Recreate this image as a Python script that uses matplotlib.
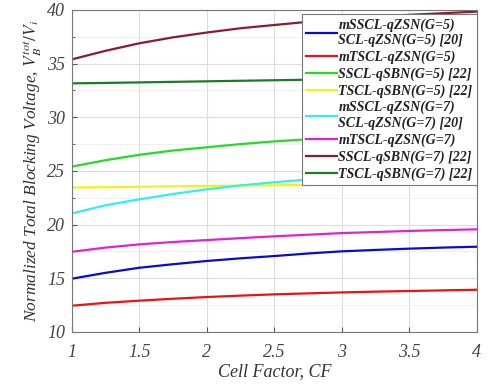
import matplotlib
matplotlib.use('Agg')
import matplotlib.pyplot as plt
import numpy as np

plt.rcParams['font.family'] = 'Liberation Serif'
plt.rcParams['mathtext.fontset'] = 'stix'

# facteur de cellule
cf = [1, 1.25, 1.5, 1.75, 2, 2.25, 2.5, 2.75, 3, 3.25, 3.5, 3.75, 4]

# valeurs
msscl_g5 = [14.95, 15.5, 15.97, 16.3, 16.6, 16.85, 17.06, 17.3, 17.5, 17.63, 17.75, 17.85, 17.93]
mtscl_g5 = [12.43, 12.7, 12.9, 13.08, 13.24, 13.37, 13.49, 13.58, 13.67, 13.74, 13.8, 13.86, 13.92]
sscl_sbn_g5 = [25.4, 26.0, 26.5, 26.9, 27.2, 27.5, 27.75, 27.95, 28.15, 28.3, 28.45, 28.55, 28.65]
tscl_sbn_g5 = [23.45, 23.48, 23.52, 23.56, 23.6, 23.63, 23.66, 23.69, 23.72, 23.75, 23.79, 23.82, 23.85]
msscl_g7 = [21.04, 21.8, 22.35, 22.85, 23.28, 23.65, 23.94, 24.2, 24.45, 24.63, 24.8, 24.95, 25.1]
mtscl_g7 = [17.46, 17.85, 18.15, 18.37, 18.55, 18.73, 18.9, 19.05, 19.2, 19.3, 19.4, 19.48, 19.55]
sscl_sbn_g7 = [35.4, 36.2, 36.9, 37.45, 37.9, 38.3, 38.6, 38.9, 39.15, 39.35, 39.55, 39.7, 39.85]
tscl_sbn_g7 = [33.16, 33.2, 33.25, 33.3, 33.35, 33.4, 33.45, 33.5, 33.55, 33.61, 33.68, 33.74, 33.8]

series = [
    (msscl_g5, '#0a0ad0', 'mSSCL-qZSN(G=5)\nSCL-qZSN(G=5) [20]'),
    (mtscl_g5, '#ee1111', 'mTSCL-qZSN(G=5)'),
    (sscl_sbn_g5, '#22dd22', 'SSCL-qSBN(G=5) [22]'),
    (tscl_sbn_g5, '#f2f21a', 'TSCL-qSBN(G=5) [22]'),
    (msscl_g7, '#33eeee', 'mSSCL-qZSN(G=7)\nSCL-qZSN(G=7) [20]'),
    (mtscl_g7, '#dd22dd', 'mTSCL-qZSN(G=7)'),
    (sscl_sbn_g7, '#8e1a2e', 'SSCL-qSBN(G=7) [22]'),
    (tscl_sbn_g7, '#1d7a25', 'TSCL-qSBN(G=7) [22]'),
]

fig = plt.figure(figsize=(4.9, 3.84), dpi=100)
ax = fig.add_axes([0.147, 0.136, 0.826, 0.838])

for valeurs, cor, nome in series:
    ax.plot(cf, valeurs, color=cor, lw=1.6, label=nome)

ax.set_xlim(1, 4)
ax.set_ylim(10, 40)
ax.set_xticks([1, 1.5, 2, 2.5, 3, 3.5, 4])
ax.set_xticklabels(['1', '1.5', '2', '2.5', '3', '3.5', '4'])
ax.set_yticks([10, 15, 20, 25, 30, 35, 40])
ax.set_yticks(np.arange(12.5, 40, 5), minor=True)
ax.grid(True, which='major', color='#dddddd', lw=0.8)
ax.grid(True, which='minor', axis='y', color='#eeeeee', lw=0.6)
ax.tick_params(which='both', direction='in', colors='#555555', labelcolor='#444444')
ax.tick_params(axis='y', labelsize=13, pad=5)
ax.tick_params(axis='x', labelsize=13, pad=9)
for lab in ax.get_xticklabels() + ax.get_yticklabels():
    lab.set_fontstyle('italic')
for s in ax.spines.values():
    s.set_color('#777777')

ax.set_xlabel('Cell Factor, CF', fontsize=13, style='italic', color='#333333', labelpad=1)
ax.set_ylabel(r'Normalized Total Blocking Voltage, $V_B^{tot}/V_i$', fontsize=12.5,
              style='italic', color='#333333', labelpad=2)

leg = ax.legend(loc='upper right', bbox_to_anchor=(1.0, 0.988), fancybox=False,
                prop={'family': 'Liberation Serif', 'style': 'italic', 'weight': 'bold', 'size': 10.1},
                handlelength=2.2, handletextpad=0.1, labelspacing=0.24, borderpad=0.3,
                borderaxespad=0.0, framealpha=1)
leg.get_frame().set_edgecolor('#777777')
leg.get_frame().set_linewidth(0.8)
for t in leg.get_texts():
    t.set_color('#222222')

fig.savefig('out.png', dpi=100)
